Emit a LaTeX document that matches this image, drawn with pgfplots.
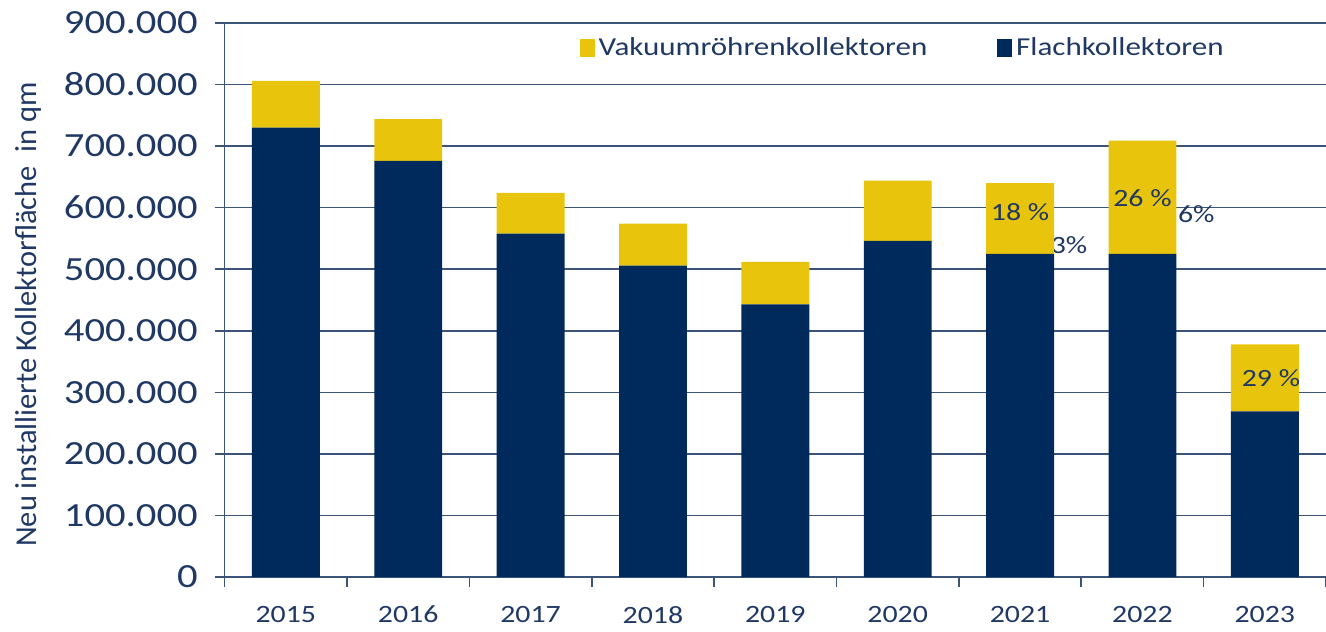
\documentclass[border=0pt]{standalone}
\usepackage{fontspec}
\setmainfont{Carlito}[FakeStretch=1.2]
\newfontfamily\plainfont{Carlito}
\usepackage{pgfplots}
\pgfplotsset{compat=1.18}
\definecolor{navy}{HTML}{002A5C}
\definecolor{gold}{HTML}{E8C50C}
\definecolor{txt}{HTML}{1F3864}
\definecolor{gridc}{HTML}{3B5478}
\begin{document}
\begin{tikzpicture}
\begin{axis}[
  scale only axis, width=551.5bp, height=277.5bp,
  ybar stacked, bar width=34bp,
  xmin=-0.5, xmax=8.5, ymin=0, ymax=900000,
  axis x line*=bottom, axis y line*=left,
  axis line style={gridc, line width=0.8bp, -},
  xtick={0,...,8},
  xticklabels={2015,2016,2017,2018,2019,2020,2021,2022,2023},
  major x tick style={draw=none},
  minor xtick={-0.5,0.5,...,8.5},
  tick align=outside, major tick length=5bp, minor tick length=5bp,
  tick style={gridc, line width=0.8bp},
  ytick={0,100000,...,900000},
  yticklabels={0,100.000,200.000,300.000,400.000,500.000,600.000,700.000,800.000,900.000},
  scaled y ticks=false,
  ymajorgrids, major grid style={gridc, line width=0.8bp},
  every tick label/.append style={text=txt},
  yticklabel style={font=\fontsize{17}{18}\selectfont, xshift=-5bp},
  xticklabel style={font=\fontsize{12.5}{14}\selectfont, yshift=-6bp},
  ylabel={Neu installierte Kollektorfläche\ \ in qm},
  every axis y label/.style={at={(axis description cs:-0.1786,0.474)}, rotate=90, anchor=center, font=\plainfont\fontsize{15.3}{17}\selectfont, text=txt},
  legend columns=2, reverse legend,
  legend style={at={(axis description cs:0.6165,0.955)}, anchor=center, draw=none, fill=none,
    font=\fontsize{13}{15}\selectfont, text=txt,
    /tikz/every even column/.append style={column sep=33bp}},
  legend image code/.code={\fill[#1] (0bp,-4.5bp) rectangle (7.5bp,4.5bp);},
  after end axis/.code={
    \node[text=txt, font=\fontsize{12.5}{14}\selectfont] at (axis cs:6,592000) {18 \%};
    \node[text=txt, font=\fontsize{12.5}{14}\selectfont] at (axis cs:7,615000) {26 \%};
    \node[text=txt, font=\fontsize{12.5}{14}\selectfont] at (axis cs:8.05,324000) {29 \%};
    \node[text=txt, font=\fontsize{12.5}{14}\selectfont] at (axis cs:7.44,590000) {6\%};
  },
]
\addplot[fill=navy, draw=none] coordinates {(0,730000) (1,676000) (2,558000) (3,506000) (4,443000) (5,546000) (6,525000) (7,525000) (8,269000)};
\addplot[fill=gold, draw=none] coordinates {(0,76000) (1,68000) (2,66000) (3,68000) (4,69000) (5,98000) (6,115000) (7,184000) (8,109000)};
\legend{Flachkollektoren, Vakuumröhrenkollektoren}
\node[text=txt, font=\fontsize{12.5}{14}\selectfont] at (axis cs:6.40,540000) {3\%};
\end{axis}
\pgfresetboundingbox
\path ([xshift=-112.5bp,yshift=-27bp]current axis.south west) rectangle ([yshift=11.5bp]current axis.north east);
\end{tikzpicture}
\end{document}
